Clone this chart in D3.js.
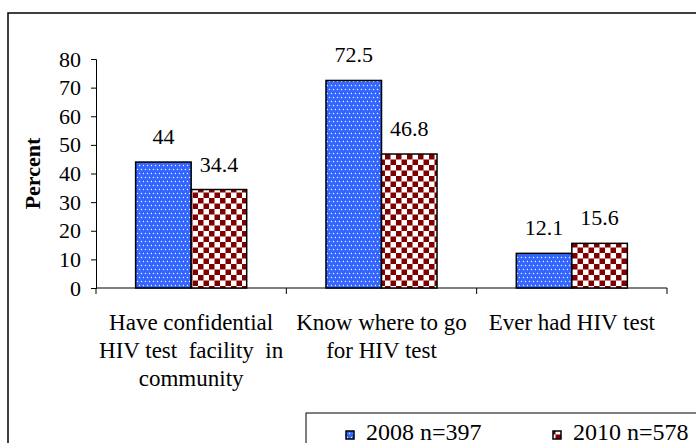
<!DOCTYPE html>
<html>
<head>
<meta charset="utf-8">
<script src="https://cdn.jsdelivr.net/npm/d3@7"></script>
<style>
  html, body { margin: 0; padding: 0; background: #fff; }
  svg { display: block; }
</style>
</head>
<body>
<svg id="chart" width="696" height="443"></svg>
<script>
const categories = [
  ["Have confidential", "HIV test  facility  in", "community"],
  ["Know where to go", "for HIV test"],
  ["Ever had HIV test"]
];
const categoryKeys = ["c1", "c2", "c3"];
const seriesNames = ["2008 n=397", "2010 n=578"];
const values2008 = [44, 72.5, 12.1];
const values2010 = [34.4, 46.8, 15.6];
const valueLabels2008 = ["44", "72.5", "12.1"];
const valueLabels2010 = ["34.4", "46.8", "15.6"];
const yTicks = [0, 10, 20, 30, 40, 50, 60, 70, 80];

const FONT = "Liberation Serif, Tinos, Times New Roman, DejaVu Serif, serif";

const svg = d3.select("#chart").attr("font-family", FONT);
const defs = svg.append("defs");

// Blue dotted pattern
const pBlue = defs.append("pattern").attr("id", "pBlue")
  .attr("patternUnits", "userSpaceOnUse").attr("width", 8).attr("height", 8);
pBlue.append("rect").attr("width", 8).attr("height", 8).attr("fill", "#3366ff");
[[1.5,1.5],[5.5,1.5],[3.5,5.5],[7.5,5.5]].forEach(([cx, cy]) =>
  pBlue.append("circle").attr("cx", cx).attr("cy", cy).attr("r", 0.75).attr("fill", "#e8eeff"));

// Red checkerboard pattern
const cs = 5.5;
const pRed = defs.append("pattern").attr("id", "pRed")
  .attr("patternUnits", "userSpaceOnUse").attr("width", cs * 2).attr("height", cs * 2);
pRed.append("rect").attr("width", cs * 2).attr("height", cs * 2).attr("fill", "#ffffff");
pRed.append("rect").attr("x", 0).attr("y", 0).attr("width", cs).attr("height", cs).attr("fill", "#800000");
pRed.append("rect").attr("x", cs).attr("y", cs).attr("width", cs).attr("height", cs).attr("fill", "#800000");

const fills = ["url(#pBlue)", "url(#pRed)"];

// Outer border (extends past the window)
svg.append("rect").attr("x", 8).attr("y", 13).attr("width", 720).attr("height", 460)
  .attr("fill", "none").attr("stroke", "#000").attr("stroke-width", 1.5);

const x0 = 96, x1 = 667, yBottom = 288, yTop = 59;
const x = d3.scaleBand().domain(categoryKeys).range([x0, x1]).paddingInner(0).paddingOuter(0);
const xs = d3.scaleBand().domain(seriesNames).range([0, x.bandwidth()]).paddingInner(0).paddingOuter(0.714);
const y = d3.scaleLinear().domain([0, 80]).range([yBottom, yTop]);

// Y axis
const yAxis = d3.axisLeft(y).tickValues(yTicks).tickSize(5).tickPadding(10).tickFormat(d3.format("d"));
const gy = svg.append("g").attr("transform", `translate(${x0},0)`).call(yAxis);
gy.attr("font-family", FONT).attr("font-size", 22);
gy.select(".domain").attr("stroke", "#000").attr("stroke-width", 1);
gy.selectAll(".tick line").attr("stroke", "#000");
gy.selectAll(".tick text").attr("fill", "#000");

// X axis: line + boundary ticks
svg.append("line").attr("x1", x0).attr("x2", x1).attr("y1", yBottom).attr("y2", yBottom)
  .attr("stroke", "#000").attr("stroke-width", 1);
const boundaries = categoryKeys.map(k => x(k)).concat([x(categoryKeys[categoryKeys.length - 1]) + x.bandwidth()]);
svg.selectAll("line.xt").data(boundaries).enter().append("line").attr("class", "xt")
  .attr("x1", d => d).attr("x2", d => d).attr("y1", yBottom).attr("y2", yBottom + 6)
  .attr("stroke", "#000").attr("stroke-width", 1);

// Bars
const seriesData = [values2008, values2010];
const seriesLabels = [valueLabels2008, valueLabels2010];
seriesNames.forEach((s, si) => {
  const g = svg.append("g");
  g.selectAll("rect").data(seriesData[si]).enter().append("rect")
    .attr("x", (d, i) => x(categoryKeys[i]) + xs(s))
    .attr("y", d => y(d))
    .attr("width", xs.bandwidth())
    .attr("height", d => y(0) - y(d))
    .attr("fill", fills[si])
    .attr("stroke", "#000").attr("stroke-width", 1.5);
  g.selectAll("text").data(seriesData[si]).enter().append("text")
    .attr("x", (d, i) => x(categoryKeys[i]) + xs(s) + xs.bandwidth() / 2)
    .attr("y", d => y(d) - 18)
    .attr("text-anchor", "middle")
    .attr("font-size", 22)
    .text((d, i) => seriesLabels[si][i]);
});

// Category labels
categoryKeys.forEach((k, i) => {
  const t = svg.append("text")
    .attr("x", x(k) + x.bandwidth() / 2)
    .attr("y", 330)
    .attr("text-anchor", "middle")
    .attr("font-size", 23)
    .attr("xml:space", "preserve")
    .style("white-space", "pre");
  categories[i].forEach((line, li) => {
    t.append("tspan").attr("x", x(k) + x.bandwidth() / 2).attr("dy", li === 0 ? 0 : 28).text(line);
  });
});

// Y title
svg.append("text")
  .attr("transform", `translate(40,${(yTop + yBottom) / 2}) rotate(-90)`)
  .attr("text-anchor", "middle")
  .attr("font-size", 22).attr("font-weight", "bold")
  .text("Percent");

// Legend
svg.append("rect").attr("x", 306).attr("y", 413).attr("width", 420).attr("height", 60)
  .attr("fill", "#fff").attr("stroke", "#000").attr("stroke-width", 1);
const legX = [346, 553];
seriesNames.forEach((s, si) => {
  svg.append("rect").attr("x", legX[si]).attr("y", 431).attr("width", 8).attr("height", 8)
    .attr("fill", fills[si]).attr("stroke", "#000").attr("stroke-width", 1.5);
  svg.append("text").attr("x", legX[si] + 20).attr("y", 440)
    .attr("font-size", 24).text(s);
});
</script>
</body>
</html>
